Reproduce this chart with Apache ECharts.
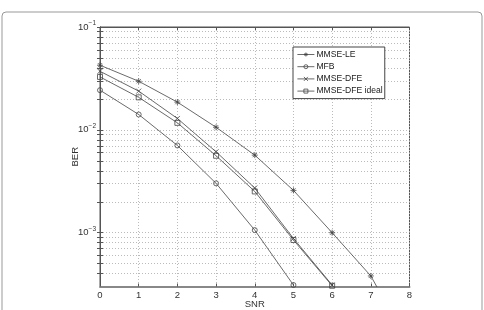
<!DOCTYPE html>
<html>
<head>
<meta charset="utf-8">
<script src="https://cdn.jsdelivr.net/npm/echarts@6/dist/echarts.min.js"></script>
<style>
  html, body { margin: 0; padding: 0; background: #fff; }
  #berChart { width: 484px; height: 310px; }
</style>
</head>
<body>
<div id="berChart"></div>
<script>
// values (BER vs SNR)
const snr = [0, 1, 2, 3, 4, 5, 6, 7, 8];
const mmseLe = [0.0425, 0.0297, 0.0186, 0.0106, 0.00568, 0.00258, 0.001, 0.00038, 0.00008];
const mfb = [0.0243, 0.0141, 0.00705, 0.00302, 0.00106, 0.00031];
const mmseDfe = [0.0371, 0.0238, 0.0129, 0.00612, 0.00272, 0.00088, 0.00031];
const mmseDfeIdeal = [0.0327, 0.0207, 0.0117, 0.0056, 0.00252, 0.00085, 0.000305];

const seriesNames = ['MMSE-LE', 'MFB', 'MMSE-DFE', 'MMSE-DFE ideal'];
const xTicks = [0, 1, 2, 3, 4, 5, 6, 7, 8];
const yMajor = [0.001, 0.01, 0.1];
const yGrid = [0.0004, 0.0005, 0.0006, 0.0007, 0.0008, 0.0009,
  0.001, 0.002, 0.003, 0.004, 0.005, 0.006, 0.007, 0.008, 0.009,
  0.01, 0.02, 0.03, 0.04, 0.05, 0.06, 0.07, 0.08, 0.09, 0.1];

const lineColor = '#444';
const fontName = 'Liberation Sans';

// marker shapes, stroked only
const markStar = 'path://M5,0L5,10M0,5L10,5M1.5,1.5L8.5,8.5M8.5,1.5L1.5,8.5';
const markCircle = 'path://M10,5A5,5,0,1,1,0,5A5,5,0,1,1,10,5Z';
const markCross = 'path://M0,0L10,10M10,0L0,10';
const markSquare = 'path://M0,0L10,0L10,10L0,10Z';

function pairs(ys) {
  return ys.map((v, i) => [snr[i], v]);
}

function supLabel(v) {
  const e = Math.log10(v);
  const r = Math.round(e);
  if (Math.abs(e - r) > 0.01) return '';
  return '10{s|' + (r < 0 ? '\u2212' + (-r) : r) + '}';
}

const chart = echarts.init(document.getElementById('berChart'));

const gridLine = { show: true, lineStyle: { color: '#bbb', type: [1, 2], width: 1 } };

function mkSeries(name, data, symbol, size) {
  return {
    name: name,
    type: 'line',
    data: pairs(data),
    symbol: symbol,
    symbolSize: size,
    clip: true,
    showAllSymbol: true,
    lineStyle: { color: lineColor, width: 0.8 },
    itemStyle: { color: 'none', borderColor: lineColor, borderWidth: 0.8 },
    emphasis: { disabled: true },
    z: 5
  };
}

let options = {
  animation: false,
  backgroundColor: '#fff',
  textStyle: { fontFamily: fontName },
  graphic: [{
    type: 'rect',
    shape: { x: 2, y: 12, width: 480, height: 330, r: 4 },
    style: { fill: 'none', stroke: '#999', lineWidth: 1 },
    silent: true
  }],
  grid: {
    left: 100, top: 27, right: 74.5, bottom: 23.5,
    outerBoundsMode: 'none',
    show: true, borderColor: '#555', borderWidth: 1
  },
  legend: {
    orient: 'vertical',
    left: 293, top: 47,
    padding: [3, 2, 3, 4],
    itemGap: 3.2,
    itemWidth: 17,
    itemHeight: 5,
    borderColor: '#444',
    borderWidth: 1,
    backgroundColor: '#fff',
    itemStyle: { borderWidth: 0.8 },
    lineStyle: { width: 0.8 },
    textStyle: { fontSize: 8.6, color: '#222', fontFamily: fontName, padding: [0, 0, 0, -3] },
    data: seriesNames
  },
  xAxis: [{
    type: 'value',
    min: 0, max: 8, interval: 1,
    name: 'SNR',
    nameLocation: 'middle',
    nameGap: 13,
    nameMoveOverlap: false,
    nameTextStyle: { fontSize: 9.5, color: '#333', verticalAlign: 'top' },
    axisLine: { lineStyle: { color: '#888', width: 2 } },
    axisTick: { inside: true, length: 3, lineStyle: { color: '#555' } },
    axisLabel: { fontSize: 9.5, color: '#333', margin: 4 },
    splitLine: gridLine
  }, {
    type: 'value', position: 'top',
    min: 0, max: 8, interval: 1,
    axisLine: { show: true, lineStyle: { color: '#555', width: 1 } },
    axisTick: { inside: true, length: 3, lineStyle: { color: '#555' } },
    axisLabel: { show: false },
    splitLine: { show: false }
  }],
  yAxis: [{
    type: 'log', logBase: 10,
    min: 0.0003, max: 0.1,
    name: 'BER',
    nameLocation: 'middle',
    nameGap: 20,
    nameMoveOverlap: false,
    nameTextStyle: { fontSize: 9.5, color: '#333' },
    axisLine: { show: true, lineStyle: { color: '#555', width: 1 } },
    axisTick: { inside: true, length: 3, customValues: yGrid, lineStyle: { color: '#555' } },
    axisLabel: {
      customValues: yMajor,
      margin: 4,
      fontSize: 9.5,
      color: '#333',
      formatter: supLabel,
      rich: { s: { fontSize: 6.5, verticalAlign: 'top', padding: [0, 0, 7, 0], color: '#333' } }
    },
    splitLine: gridLine
  }, {
    type: 'log', logBase: 10, position: 'right',
    min: 0.0003, max: 0.1,
    axisLine: { show: true, lineStyle: { color: '#555', width: 1 } },
    axisTick: { inside: true, length: 3, customValues: yGrid, lineStyle: { color: '#555' } },
    axisLabel: { show: false },
    splitLine: { show: false }
  }],
  series: [
    mkSeries(seriesNames[0], mmseLe, markStar, 6),
    mkSeries(seriesNames[1], mfb, markCircle, 5),
    mkSeries(seriesNames[2], mmseDfe, markCross, 5),
    mkSeries(seriesNames[3], mmseDfeIdeal, markSquare, 5)
  ]
};

chart.setOption(options);
</script>
</body>
</html>
